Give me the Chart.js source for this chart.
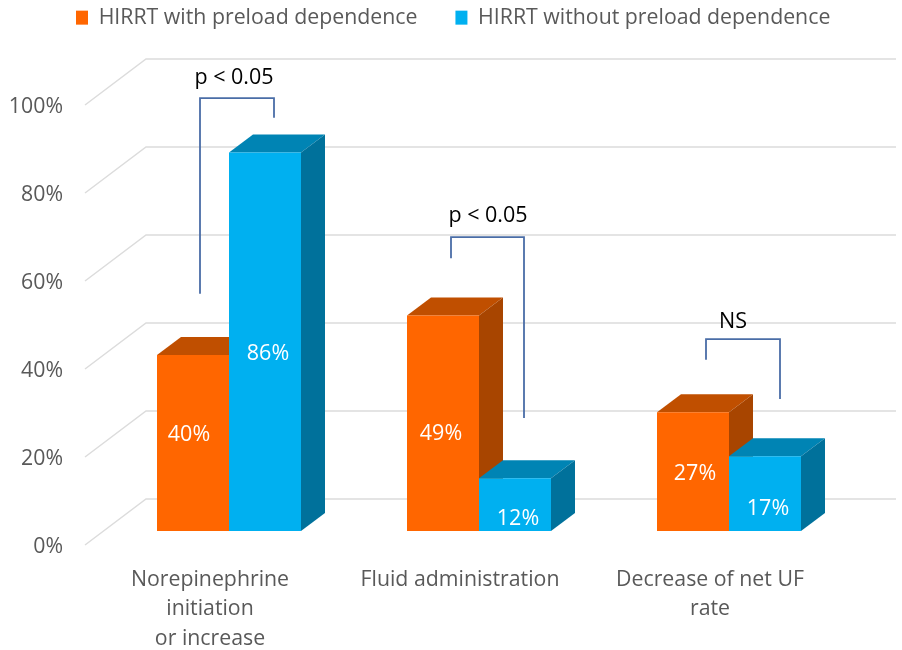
<!DOCTYPE html>
<html><head><meta charset="utf-8">
<script src="https://cdn.jsdelivr.net/npm/chart.js@4"></script>
<style>html,body{margin:0;padding:0;background:#fff}canvas{display:block}</style>
</head><body><canvas id="c" width="902" height="650"></canvas>
<script>
const categories = [["Norepinephrine","initiation","or increase"],"Fluid administration",["Decrease of net UF","rate"]];
const seriesNames = ["HIRRT with preload dependence","HIRRT without preload dependence"];
const withPreload = [40,49,27];
const withoutPreload = [86,12,17];
const yTicks = [0,20,40,60,80,100];
const sigLabels = ["p < 0.05","p < 0.05","NS"];
// bracket levels in axis units: left end, top, right end
const bracketLeftEnd = [53.9,62,38.9];
const bracketTop = [98.4,66.8,43.6];
const bracketRightEnd = [93.9,25.7,30];
const sigLabelLevel = [103,71.6,47.5];

const FONT = "'Open Sans', sans-serif";
const GREY = "#595959";
const DEPTH = {x:24,y:-18};
const WALL = {x:42,y:-32};
const FRONT = {x:-19,y:14};
const shades = [{top:"#C04F00",side:"#A84500"},{top:"#0084B4",side:"#00719B"}];
const bracketDx = [[-29,45],[-28,45],[-23,51]];
const sigDx = [5,9,4];
const labelShift = [[[-4,-8],[3,12]],[[-2,11],[3,14]],[[2,2],[3,15]]];

function drawSides(chart,index){
  const {ctx} = chart;
  const s = shades[index];
  ctx.save();
  chart.getDatasetMeta(index).data.forEach(b=>{
    const l=b.x-b.width/2,r=b.x+b.width/2,t=b.y,bm=b.base;
    ctx.fillStyle=s.top;
    ctx.beginPath();ctx.moveTo(l,t);ctx.lineTo(l+DEPTH.x,t+DEPTH.y);ctx.lineTo(r+DEPTH.x,t+DEPTH.y);ctx.lineTo(r,t);ctx.closePath();ctx.fill();
    ctx.fillStyle=s.side;
    ctx.beginPath();ctx.moveTo(r,t);ctx.lineTo(r+DEPTH.x,t+DEPTH.y);ctx.lineTo(r+DEPTH.x,bm+DEPTH.y);ctx.lineTo(r,bm);ctx.closePath();ctx.fill();
  });
  ctx.restore();
}

const threeD = {
  id:"threeD",
  beforeLayout(chart){
    const l = chart.legend;
    if(!l._patched){
      const f = l.fit;
      l.fit = function(){ f.call(this); this.height = 91; };
      l._patched = true;
    }
  },
  afterLayout(chart){
    chart.legend.left = 38;
    chart.legend.right = chart.width;
    chart.legend.top = -31;
  },
  beforeDatasetsDraw(chart){
    const {ctx,chartArea:a,scales:{y}} = chart;
    ctx.save();
    ctx.strokeStyle="#DCDCDC"; ctx.lineWidth=1.5;
    y.ticks.forEach(t=>{
      const p=y.getPixelForValue(t.value);
      ctx.beginPath();
      ctx.moveTo(a.left+FRONT.x,p+FRONT.y);
      ctx.lineTo(a.left+WALL.x,p+WALL.y);
      ctx.lineTo(a.right+WALL.x,p+WALL.y);
      ctx.stroke();
    });
    ctx.restore();
  },
  beforeDatasetDraw(chart,args){
    // the second series is painted right after the first, so it overlaps the first one's side faces
    if(args.index===1) return false;
    drawSides(chart,0);
  },
  afterDatasetDraw(chart,args){
    if(args.index===0){
      drawSides(chart,1);
      chart.getDatasetMeta(1).controller.draw();
    }
  },
  afterDatasetsDraw(chart){
    const {ctx,scales:{x,y}} = chart;
    ctx.save();
    ctx.font="21.5px "+FONT; ctx.textAlign="center"; ctx.textBaseline="middle";
    ctx.fillStyle="#fff";
    chart.data.datasets.forEach((d,i)=>{
      chart.getDatasetMeta(i).data.forEach((b,j)=>{
        const sh=labelShift[j][i];
        ctx.fillText(d.data[j]+"%",b.x+sh[0],(b.y+b.base)/2+sh[1]);
      });
    });
    categories.forEach((c,i)=>{
      const cx=x.getPixelForValue(i);
      const xl=cx+bracketDx[i][0],xr=cx+bracketDx[i][1];
      ctx.strokeStyle="#4A6DA7";ctx.lineWidth=1.8;
      ctx.beginPath();
      ctx.moveTo(xl,y.getPixelForValue(bracketLeftEnd[i]));
      ctx.lineTo(xl,y.getPixelForValue(bracketTop[i]));
      ctx.lineTo(xr,y.getPixelForValue(bracketTop[i]));
      ctx.lineTo(xr,y.getPixelForValue(bracketRightEnd[i]));
      ctx.stroke();
      ctx.fillStyle="#000";
      ctx.fillText(sigLabels[i],cx+sigDx[i],y.getPixelForValue(sigLabelLevel[i]));
    });
    ctx.restore();
  }
};

new Chart(document.getElementById("c"),{
  type:"bar",
  data:{labels:categories,datasets:[
    {label:seriesNames[0],data:withPreload,backgroundColor:"#FF6600"},
    {label:seriesNames[1],data:withoutPreload,backgroundColor:"#00B0F0"}
  ]},
  options:{
    responsive:false,animation:false,
    layout:{padding:{left:0,right:48,top:0,bottom:0}},
    datasets:{bar:{barPercentage:1,categoryPercentage:0.576}},
    plugins:{
      tooltip:{enabled:false},
      legend:{position:"top",align:"start",labels:{
        boxWidth:12,boxHeight:14,padding:38,color:GREY,
        font:{family:FONT,size:21.3}
      }}
    },
    scales:{
      x:{
        grid:{display:false},border:{display:false},
        afterFit(s){s.height=119;},
        ticks:{color:GREY,font:{family:FONT,size:21.3,lineHeight:1.38},padding:26,labelOffset:FRONT.x,maxRotation:0,autoSkip:false}
      },
      y:{
        min:0,max:100,
        afterFit(s){s.width=104;},
        afterBuildTicks(s){s.ticks=yTicks.map(v=>({value:v}));},
        grid:{display:false,drawTicks:false},border:{display:false},
        ticks:{color:GREY,font:{family:FONT,size:21.3},padding:41,labelOffset:FRONT.y+2,callback:v=>v+"%"}
      }
    }
  },
  plugins:[threeD]
});
</script></body></html>
